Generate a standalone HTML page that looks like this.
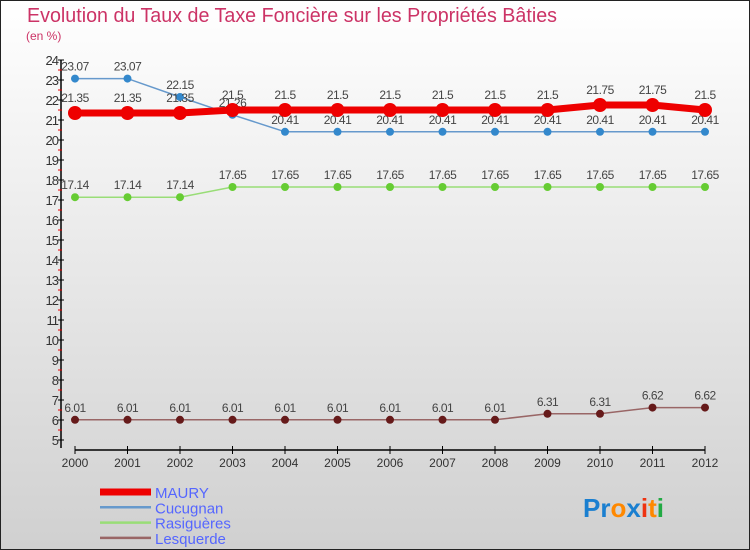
<!DOCTYPE html>
<html><head><meta charset="utf-8"><style>
body{margin:0;padding:0}
svg{display:block;font-family:"Liberation Sans",sans-serif}
</style></head><body>
<svg id="chart" width="750" height="550" xmlns="http://www.w3.org/2000/svg">
<defs><linearGradient id="bg" x1="0" y1="0" x2="0" y2="1"><stop offset="0" stop-color="#ffffff"/><stop offset="1" stop-color="#d0d0d0"/></linearGradient></defs>
<rect x="0.5" y="0.5" width="749" height="549" fill="url(#bg)" stroke="#222"/>
<text x="27" y="22" font-size="20" fill="#cc3366" textLength="530" lengthAdjust="spacingAndGlyphs">Evolution du Taux de Taxe Foncière sur les Propriétés Bâties</text>
<text x="26" y="40" font-size="12" fill="#cc3366">(en %)</text>
<g id="axes"></g>
<g id="series"></g>
<g id="legend"></g>
<text x="583" y="517" font-size="26" font-weight="bold"><tspan fill="#1a7fd0">Pr</tspan><tspan fill="#ff8800">o</tspan><tspan fill="#1a7fd0">x</tspan><tspan fill="#ee3311">i</tspan><tspan fill="#ff8800">t</tspan><tspan fill="#22aa44">i</tspan></text>
</svg>
<script>
const years=[2000,2001,2002,2003,2004,2005,2006,2007,2008,2009,2010,2011,2012];
const maury=[21.35,21.35,21.35,21.5,21.5,21.5,21.5,21.5,21.5,21.5,21.75,21.75,21.5];
const cucugnan=[23.07,23.07,22.15,21.26,20.41,20.41,20.41,20.41,20.41,20.41,20.41,20.41,20.41];
const rasigueres=[17.14,17.14,17.14,17.65,17.65,17.65,17.65,17.65,17.65,17.65,17.65,17.65,17.65];
const lesquerde=[6.01,6.01,6.01,6.01,6.01,6.01,6.01,6.01,6.01,6.31,6.31,6.62,6.62];
const yTicks=[5,6,7,8,9,10,11,12,13,14,15,16,17,18,19,20,21,22,23,24];
const NS="http://www.w3.org/2000/svg";
const xs=i=>75+i*52.5;
const ys=v=>440-(v-5)*20;
function mk(tag,attrs,parent){const e=document.createElementNS(NS,tag);for(const k in attrs)e.setAttribute(k,attrs[k]);parent.appendChild(e);return e;}
const ax=document.getElementById('axes');
let l=mk('line',{x1:61,y1:60,x2:61,y2:448,stroke:'#000','stroke-width':1.5},ax);


yTicks.forEach(v=>{
  let t=mk('line',{x1:58,x2:64,y1:ys(v),y2:ys(v),stroke:'#000'},ax);
  
  
  if(v<24){let m=mk('line',{x1:58,x2:62,y1:ys(v+0.5),y2:ys(v+0.5),stroke:'#e00'},ax);
  
  }
  let tx=mk('text',{x:58,y:ys(v)+5,'font-size':13,fill:'#333','text-anchor':'end','letter-spacing':'-1'},ax);
  tx.textContent=v;
  
  
});
l=mk('line',{x1:75,y1:450,x2:705,y2:450,stroke:'#000','stroke-width':1.5},ax);


years.forEach((y,i)=>{
  let t=mk('line',{x1:xs(i),x2:xs(i),y1:446,y2:454,stroke:'#000'},ax);
  
  
  let tx=mk('text',{x:xs(i),y:467,'font-size':12,fill:'#333','text-anchor':'middle'},ax);
  tx.textContent=y;
  
  
});
const sg=document.getElementById('series');
function series(name,vals,color,width,r,dot,lblDy){
  const g=mk('g',{},sg);
  
  
  const p=mk('polyline',{points:vals.map((v,i)=>xs(i)+','+ys(v)).join(' '),fill:'none',stroke:color,'stroke-width':width},g);
  
  
  vals.forEach((v,i)=>{
    const c=mk('circle',{cx:xs(i),cy:ys(v),r:r,fill:dot},g);
    
    
    const t=mk('text',{x:xs(i),y:ys(v)+lblDy,'font-size':12,fill:'#444','text-anchor':'middle','letter-spacing':'-0.5'},g);
    t.textContent=v;
    
    
  });
}
series('lesquerde',lesquerde,'#996666',1.5,4,'#661a1a',-8);
series('rasigueres',rasigueres,'#99dd77',1.5,4,'#66cc33',-8);
series('cucugnan',cucugnan,'#6699cc',1.5,4,'#3388cc',-8);
series('maury',maury,'#ee0000',7,7,'#ee0000',-11);
const lg=document.getElementById('legend');
[['MAURY','#ee0000',7],['Cucugnan','#6699cc',2.5],['Rasiguères','#99dd77',2.5],['Lesquerde','#996666',2.5]].forEach((d,i)=>{
  const y=492+i*15.3;
  const ln=mk('line',{x1:100,x2:151,y1:y,y2:y,stroke:d[1],'stroke-width':d[2]},lg);
  
  
  const t=mk('text',{x:155,y:y+6,'font-size':15,fill:'#5566ff'},lg);
  t.textContent=d[0];
  
  
});
</script>
</body></html>
